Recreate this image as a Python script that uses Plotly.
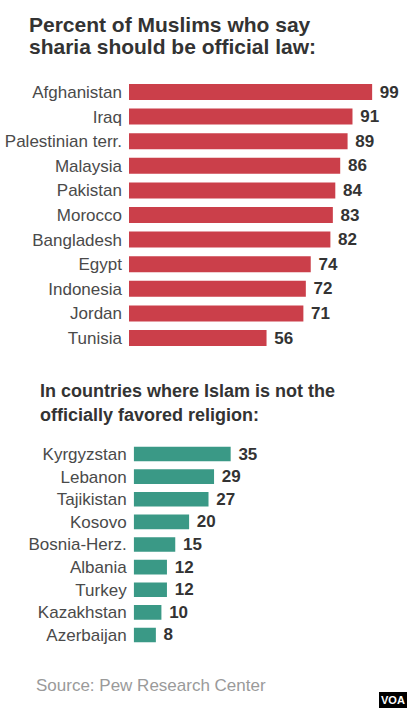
import plotly.graph_objects as go

top_countries = ["Afghanistan", "Iraq", "Palestinian terr.", "Malaysia", "Pakistan",
                 "Morocco", "Bangladesh", "Egypt", "Indonesia", "Jordan", "Tunisia"]
top_values = [99, 91, 89, 86, 84, 83, 82, 74, 72, 71, 56]

bottom_countries = ["Kyrgyzstan", "Lebanon", "Tajikistan", "Kosovo", "Bosnia-Herz.",
                    "Albania", "Turkey", "Kazakhstan", "Azerbaijan"]
bottom_values = [35, 29, 27, 20, 15, 12, 12, 10, 8]

RED = "#CB3F4A"
TEAL = "#3A9986"
FONT = "Liberation Sans, Arial, Helvetica, sans-serif"
W, H = 408, 708

fig = go.Figure()
fig.add_trace(go.Bar(
    x=top_values, y=top_countries, orientation="h",
    marker=dict(color=RED, line=dict(width=0)),
    text=top_values, texttemplate="\u00a0%{text}", textposition="outside",
    constraintext="none",
    outsidetextfont=dict(family=FONT, size=17, color="#333333", weight="bold"),
    cliponaxis=False, xaxis="x", yaxis="y", hoverinfo="skip",
))
fig.add_trace(go.Bar(
    x=bottom_values, y=bottom_countries, orientation="h",
    marker=dict(color=TEAL, line=dict(width=0)),
    text=bottom_values, texttemplate="\u00a0%{text}", textposition="outside",
    constraintext="none",
    outsidetextfont=dict(family=FONT, size=17, color="#333333", weight="bold"),
    cliponaxis=False, xaxis="x2", yaxis="y2", hoverinfo="skip",
))

def py(px):
    return 1 - px / H

axis_common = dict(showgrid=False, zeroline=False, showline=False, fixedrange=True)

fig.update_layout(
    width=W, height=H,
    margin=dict(l=0, r=0, t=0, b=0),
    paper_bgcolor="white", plot_bgcolor="white",
    showlegend=False, bargap=0.35,
    font=dict(family=FONT, color="#444444"),
    xaxis=dict(domain=[129 / W, 1], range=[0, 113.6], visible=False, **axis_common),
    yaxis=dict(domain=[py(350.3), py(79.7)], autorange="reversed",
               tickfont=dict(family=FONT, size=17, color="#4a4a4a"),
               ticks="", ticklabelstandoff=6, anchor="x", **axis_common),
    xaxis2=dict(domain=[133.7 / W, 1], range=[0, 99.0], visible=False,
                anchor="y2", **axis_common),
    yaxis2=dict(domain=[py(646.3), py(442.7)], autorange="reversed",
                tickfont=dict(family=FONT, size=17, color="#4a4a4a"),
                ticks="", ticklabelstandoff=6, anchor="x2", **axis_common),
)

def text_ann(txt, x, ypx, size, color, bold=False):
    fig.add_annotation(
        text=f"<b>{txt}</b>" if bold else txt,
        xref="paper", yref="paper", x=x / W, y=py(ypx),
        xanchor="left", yanchor="middle", showarrow=False,
        font=dict(family=FONT, size=size, color=color),
    )

text_ann("Percent of Muslims who say", 27, 24, 21, "#333333", bold=True)
text_ann("sharia should be official law:", 27, 46, 21, "#333333", bold=True)
text_ann("In countries where Islam is not the", 38, 391, 18, "#333333", bold=True)
text_ann("officially favored religion:", 38, 415, 18, "#333333", bold=True)
text_ann("Source: Pew Research Center", 34, 685, 17, "#9a9a9a")

# VOA logo
fig.add_shape(type="rect", xref="paper", yref="paper",
              x0=379 / W, x1=407 / W, y0=py(708), y1=py(692),
              fillcolor="black", line=dict(width=0))
fig.add_annotation(text="<b>VOA</b>", xref="paper", yref="paper",
                   x=393 / W, y=py(700), xanchor="center", yanchor="middle",
                   showarrow=False, font=dict(family=FONT, size=11, color="white"))

fig.write_html("out.html", config={"displayModeBar": False},
               post_script="document.body.style.margin='0';document.body.style.overflow='hidden';")
